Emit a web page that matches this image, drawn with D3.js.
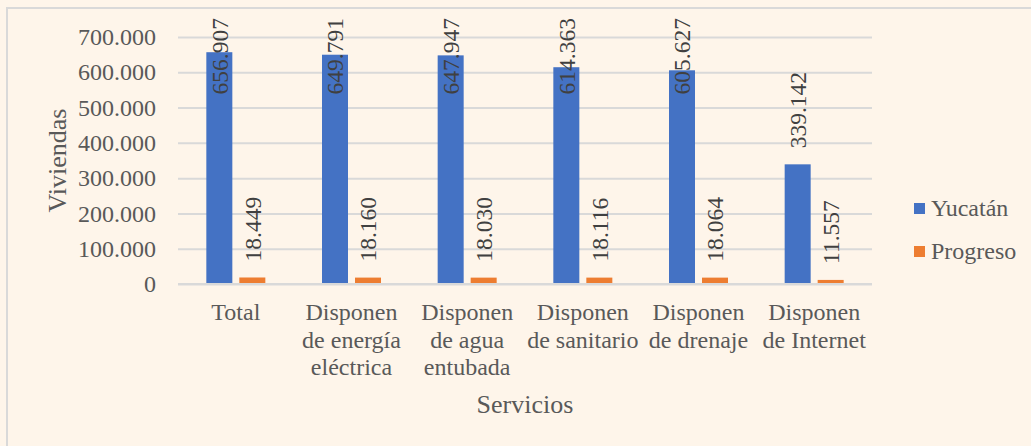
<!DOCTYPE html>
<html>
<head>
<meta charset="utf-8">
<script src="https://cdn.jsdelivr.net/npm/d3@7"></script>
<style>
  html, body { margin: 0; padding: 0; background: #FEF5EA; }
  svg { display: block; }
</style>
</head>
<body>
<script>
// tamaño del lienzo
const width = 1031;
const height = 446;

// datos
const categories = [
    ['Total'],
    ['Disponen', 'de energía', 'eléctrica'],
    ['Disponen', 'de agua', 'entubada'],
    ['Disponen', 'de sanitario'],
    ['Disponen', 'de drenaje'],
    ['Disponen', 'de Internet']
];
const seriesNames = ['Yucatán', 'Progreso'];
const yucatan = [656907, 649791, 647947, 614363, 605627, 339142];
const progreso = [18449, 18160, 18030, 18116, 18064, 11557];
const yTicks = [0, 100000, 200000, 300000, 400000, 500000, 600000, 700000];

const colors = ['#4472C4', '#ED7D31'];
const textColor = '#595959';
const gridColor = '#D9D9D9';
const serif = 'Liberation Serif';

// área de trazado
const plot = { left: 178, right: 872, top: 37, bottom: 284 };

const fmt = v => d3.format(',')(v).replace(/,/g, '.');

const svg = d3.select('body').append('svg')
    .attr('width', width)
    .attr('height', height)
    .attr('font-family', serif);

svg.append('rect')
    .attr('x', 0).attr('y', 0)
    .attr('width', width).attr('height', height)
    .attr('fill', '#FEF5EA');

// borde del gráfico
svg.append('rect')
    .attr('x', 7).attr('y', 8)
    .attr('width', width + 20).attr('height', height + 20)
    .attr('fill', 'none')
    .attr('stroke', gridColor)
    .attr('stroke-width', 2);

const x = d3.scaleBand()
    .domain(d3.range(categories.length))
    .range([plot.left, plot.right]);

const y = d3.scaleLinear()
    .domain([0, 700000])
    .range([plot.bottom, plot.top]);

// líneas de la cuadrícula y etiquetas del eje Y
const yAxis = d3.axisLeft(y)
    .tickValues(yTicks)
    .tickSize(-(plot.right - plot.left))
    .tickPadding(22)
    .tickFormat(fmt);

const gy = svg.append('g')
    .attr('transform', `translate(${plot.left},0)`)
    .call(yAxis)
    .attr('font-family', serif)
    .attr('font-size', 24);
gy.select('.domain').remove();
gy.selectAll('.tick line').attr('stroke', gridColor).attr('stroke-width', 2);
gy.selectAll('.tick text')
    .attr('fill', textColor)
    .attr('font-family', serif)
    .attr('font-size', 24);

// barras
const barW = 26;
const gap = 7;
const offsets = [-(gap / 2 + barW), gap / 2];
const allSeries = [yucatan, progreso];

allSeries.forEach((vals, s) => {
    svg.append('g').selectAll('rect')
        .data(vals)
        .enter()
        .append('rect')
        .attr('fill', colors[s])
        .attr('x', (d, i) => x(i) + x.bandwidth() / 2 + offsets[s])
        .attr('y', d => y(d))
        .attr('width', barW)
        .attr('height', d => y(0) - y(d));
});

// etiquetas de datos (verticales)
allSeries.forEach((vals, s) => {
    svg.append('g').selectAll('text')
        .data(vals)
        .enter()
        .append('text')
        .attr('fill', '#404040')
        .attr('font-family', serif)
        .attr('font-size', 23.5)
        .attr('text-anchor', 'start')
        .attr('dy', '0.35em')
        .text(d => fmt(d))
        .each(function(d, i) {
            const len = this.getComputedTextLength();
            const cx = x(i) + x.bandwidth() / 2 + offsets[s] + barW / 2;
            let base = y(d) - 16;
            if (base - len < 18) base = 18 + len;
            d3.select(this).attr('transform', `translate(${cx},${base}) rotate(-90)`);
        });
});

// eje X y etiquetas de categoría
svg.append('line')
    .attr('x1', plot.left).attr('x2', plot.right)
    .attr('y1', y(0)).attr('y2', y(0))
    .attr('stroke', gridColor).attr('stroke-width', 2);

const cat = svg.append('g').selectAll('text')
    .data(categories)
    .enter()
    .append('text')
    .attr('fill', textColor)
    .attr('font-family', serif)
    .attr('font-size', 24)
    .attr('text-anchor', 'middle')
    .attr('x', (d, i) => x(i) + x.bandwidth() / 2)
    .attr('y', 320);

cat.selectAll('tspan')
    .data(d => d)
    .enter()
    .append('tspan')
    .attr('x', function() { return d3.select(this.parentNode).attr('x'); })
    .attr('dy', (d, i) => i === 0 ? 0 : 27.5)
    .text(d => d);

// títulos de ejes
svg.append('text')
    .attr('fill', textColor)
    .attr('font-family', serif)
    .attr('font-size', 26)
    .attr('text-anchor', 'middle')
    .attr('x', (plot.left + plot.right) / 2)
    .attr('y', 413)
    .text('Servicios');

svg.append('text')
    .attr('fill', textColor)
    .attr('font-family', serif)
    .attr('font-size', 26)
    .attr('text-anchor', 'middle')
    .attr('transform', `translate(66,${(plot.top + plot.bottom) / 2}) rotate(-90)`)
    .text('Viviendas');

// leyenda
const legend = svg.append('g').selectAll('g')
    .data(seriesNames)
    .enter()
    .append('g')
    .attr('transform', (d, i) => `translate(914,${203 + i * 43})`);

legend.append('rect')
    .attr('width', 11).attr('height', 11)
    .attr('fill', (d, i) => colors[i]);

legend.append('text')
    .attr('x', 17)
    .attr('y', 13)
    .attr('fill', textColor)
    .attr('font-family', serif)
    .attr('font-size', 24)
    .text(d => d);
</script>
</body>
</html>
